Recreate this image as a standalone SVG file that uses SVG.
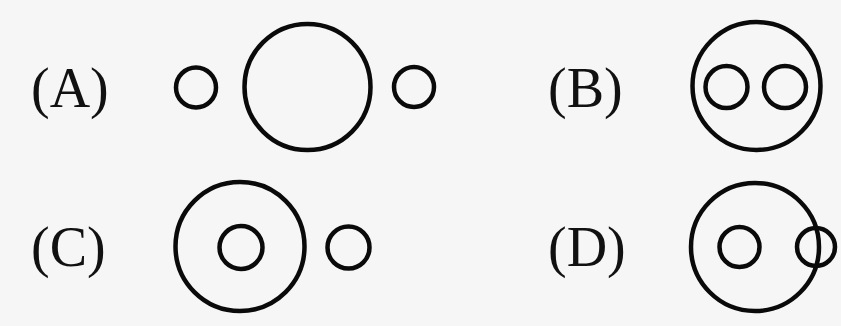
<svg xmlns="http://www.w3.org/2000/svg" width="841" height="326" viewBox="0 0 841 326">
<style>
.c{fill:none;stroke:#0a0a0a;stroke-width:4.5}
.t{font-family:"Liberation Serif","Times New Roman",serif;font-size:56px;fill:#111}
</style>
<rect x="0" y="0" width="841" height="326" fill="#f6f6f6"/>
<g id="optionA">
<text class="t" x="31" y="107">(A)</text>
<circle class="c" cx="196" cy="87.5" r="20"/>
<circle class="c" cx="307.5" cy="87" r="63"/>
<circle class="c" cx="414" cy="87" r="20"/>
</g>
<g id="optionB">
<text class="t" x="548" y="107">(B)</text>
<circle class="c" cx="756.5" cy="86" r="64"/>
<circle class="c" cx="726.5" cy="87" r="21"/>
<circle class="c" cx="785" cy="87" r="21"/>
</g>
<g id="optionC">
<text class="t" x="31" y="266">(C)</text>
<circle class="c" cx="240" cy="246.5" r="64.5"/>
<circle class="c" cx="241" cy="247.5" r="21.5"/>
<circle class="c" cx="348.5" cy="247.5" r="21"/>
</g>
<g id="optionD">
<text class="t" x="548" y="266">(D)</text>
<circle class="c" cx="755" cy="247" r="64"/>
<circle class="c" cx="739.5" cy="247" r="20"/>
<circle class="c" cx="816" cy="247" r="19"/>
</g>
<g id="connectors"/>
</svg>
